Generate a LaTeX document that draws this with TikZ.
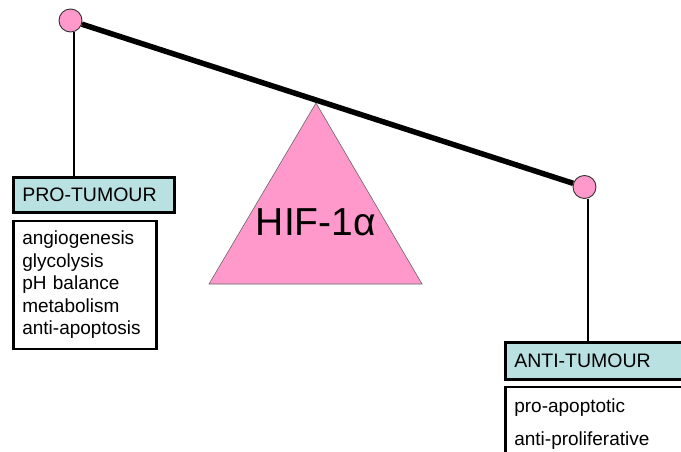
\documentclass[tikz,border=0pt]{standalone}
\usepackage{fontspec}
\setmainfont{Liberation Sans}
\usetikzlibrary{positioning}
\definecolor{hifpink}{HTML}{FF99CC}
\definecolor{tumourcyan}{HTML}{B9E1E1}

\begin{document}
\begin{tikzpicture}[x=1pt, y=-1pt,
    pivotnode/.style={circle, draw=black!80, fill=hifpink, line width=0.9pt, minimum size=23pt, inner sep=0pt},
    titlebox/.style={rectangle, draw=black, fill=tumourcyan, line width=2.6pt, inner xsep=9pt, align=left, font=\fontsize{19.5}{23}\selectfont},
    listbox/.style={rectangle, draw=black, fill=white, line width=2.6pt, inner xsep=9pt, align=left},
    beam/.style={line width=5.5pt},
    stem/.style={line width=2.6pt}
   ]
   \useasboundingbox (0,0) rectangle (681,452);
   \clip (0,0) rectangle (681,452);

   % fulcrum
   \coordinate (apex) at (316,103);
   \coordinate (baseleft) at (209,284);
   \coordinate (baseright) at (422,284);
   \filldraw[fill=hifpink, draw=black!60, line width=0.6pt] (apex) -- (baseleft) -- (baseright) -- cycle;
   \node (hif) at (316,222.5) {\fontsize{39}{44}\selectfont HIF-1α};

   \node[pivotnode] (lcirc) at (70.5,20.5) {};
   \node[pivotnode] (rcirc) at (584.5,187) {};

   \node[titlebox, text width=143pt, minimum height=35pt, anchor=north west] (protitle) at (12,176) {PRO-TUMOUR};
   \node[listbox, below=6pt of protitle.south west, anchor=north west, text width=125pt, minimum height=128pt,
         font=\fontsize{19}{22.5}\selectfont] (prolist)
     {angiogenesis\\glycolysis\\pH balance\\metabolism\\anti-apoptosis};

   \node[titlebox, text width=180pt, minimum height=37pt, anchor=north west] (antititle) at (504,341) {ANTI-TUMOUR};
   \node[listbox, below=5pt of antititle.south west, anchor=north west, text width=180pt, inner ysep=12pt,
         font=\fontsize{19}{33}\selectfont] (antilist)
     {pro-apoptotic\\anti-proliferative};

  \draw[beam] (lcirc) -- (rcirc);
  \draw[stem] ([xshift=3.5pt]lcirc.south) -- ([xshift=3.5pt]lcirc.south |- protitle.north);
  \draw[stem] ([xshift=3.5pt]rcirc.south) -- ([xshift=3.5pt]rcirc.south |- antititle.north);
 \end{tikzpicture}
\end{document}
